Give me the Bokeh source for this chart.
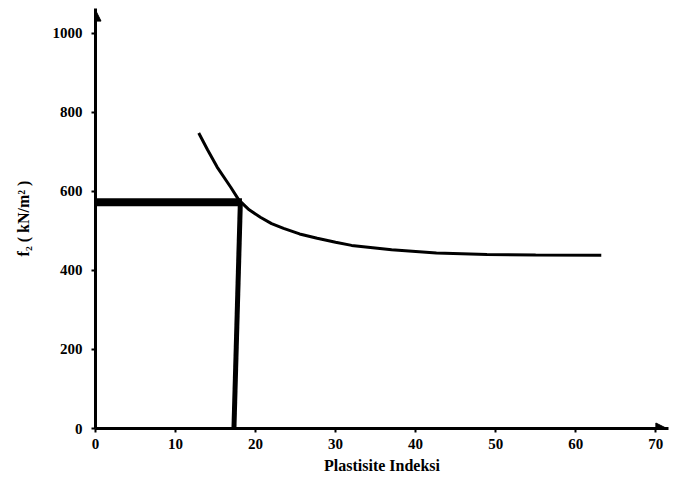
from bokeh.plotting import figure
from bokeh.models import Range1d, Arrow, NormalHead, FixedTicker
from bokeh.embed import file_html
from bokeh.resources import INLINE

# data
curve_x = [12.9, 14.0, 15.2, 16.9, 17.9, 19.2, 20.6, 22.0, 23.5, 25.5, 27.7, 30.0, 32.0, 37.0, 42.6, 48.9, 55.0, 63.2]
curve_y = [747, 705, 661, 610, 578, 553, 534, 518, 506, 492, 481, 471, 463, 452, 444, 440, 439, 438]
read_x = [0, 18.3]
read_y = [572, 572]
drop_x = [18.1, 17.3]
drop_y = [572, 0]
x_ticks = [0, 10, 20, 30, 40, 50, 60, 70]
y_ticks = [0, 200, 400, 600, 800, 1000]

FONT = "Liberation Serif"

p = figure(width=669, height=480, output_backend="svg", toolbar_location=None,
           x_range=Range1d(0, 71.6), y_range=Range1d(0, 1062),
           min_border_left=95, min_border_right=1, min_border_top=8,
           min_border_bottom=52)
p.outline_line_color = None
p.grid.visible = False

p.line(curve_x, curve_y, line_color="black", line_width=3)
p.line(read_x, read_y, line_color="black", line_width=8)
p.line(drop_x, drop_y, line_color="black", line_width=5)

for ax in (p.xaxis[0], p.yaxis[0]):
    ax.axis_line_width = 3
    ax.axis_line_color = "black"
    ax.major_tick_line_width = 2
    ax.major_tick_out = 4
    ax.major_tick_in = 0
    ax.minor_tick_out = 0
    ax.minor_tick_in = 0
    ax.major_label_text_font = FONT
    ax.major_label_text_font_style = "bold"
    ax.major_label_text_font_size = "15px"
    ax.major_label_text_color = "black"
    ax.axis_label_text_font = FONT
    ax.axis_label_text_font_style = "bold"
    ax.axis_label_text_font_size = "16px"
    ax.axis_label_text_color = "black"

p.xaxis.ticker = FixedTicker(ticks=x_ticks)
p.yaxis.ticker = FixedTicker(ticks=y_ticks)
p.xaxis.major_label_standoff = 6
p.yaxis.major_label_standoff = 9
p.xaxis.axis_label = "Plastisite Indeksi"
p.yaxis.axis_label = "f\u2082 ( kN/m\u00b2 )"
p.xaxis.axis_label_standoff = 5
p.yaxis.axis_label_standoff = 18

p.add_layout(Arrow(end=NormalHead(size=11, fill_color="black", line_color="black"),
                   x_start=0, y_start=1000, x_end=0, y_end=1058,
                   line_width=3, line_color="black"))
p.add_layout(Arrow(end=NormalHead(size=11, fill_color="black", line_color="black"),
                   x_start=65, y_start=0, x_end=71.4, y_end=0,
                   line_width=3, line_color="black"))

open("out.html", "w").write(file_html(p, INLINE))
